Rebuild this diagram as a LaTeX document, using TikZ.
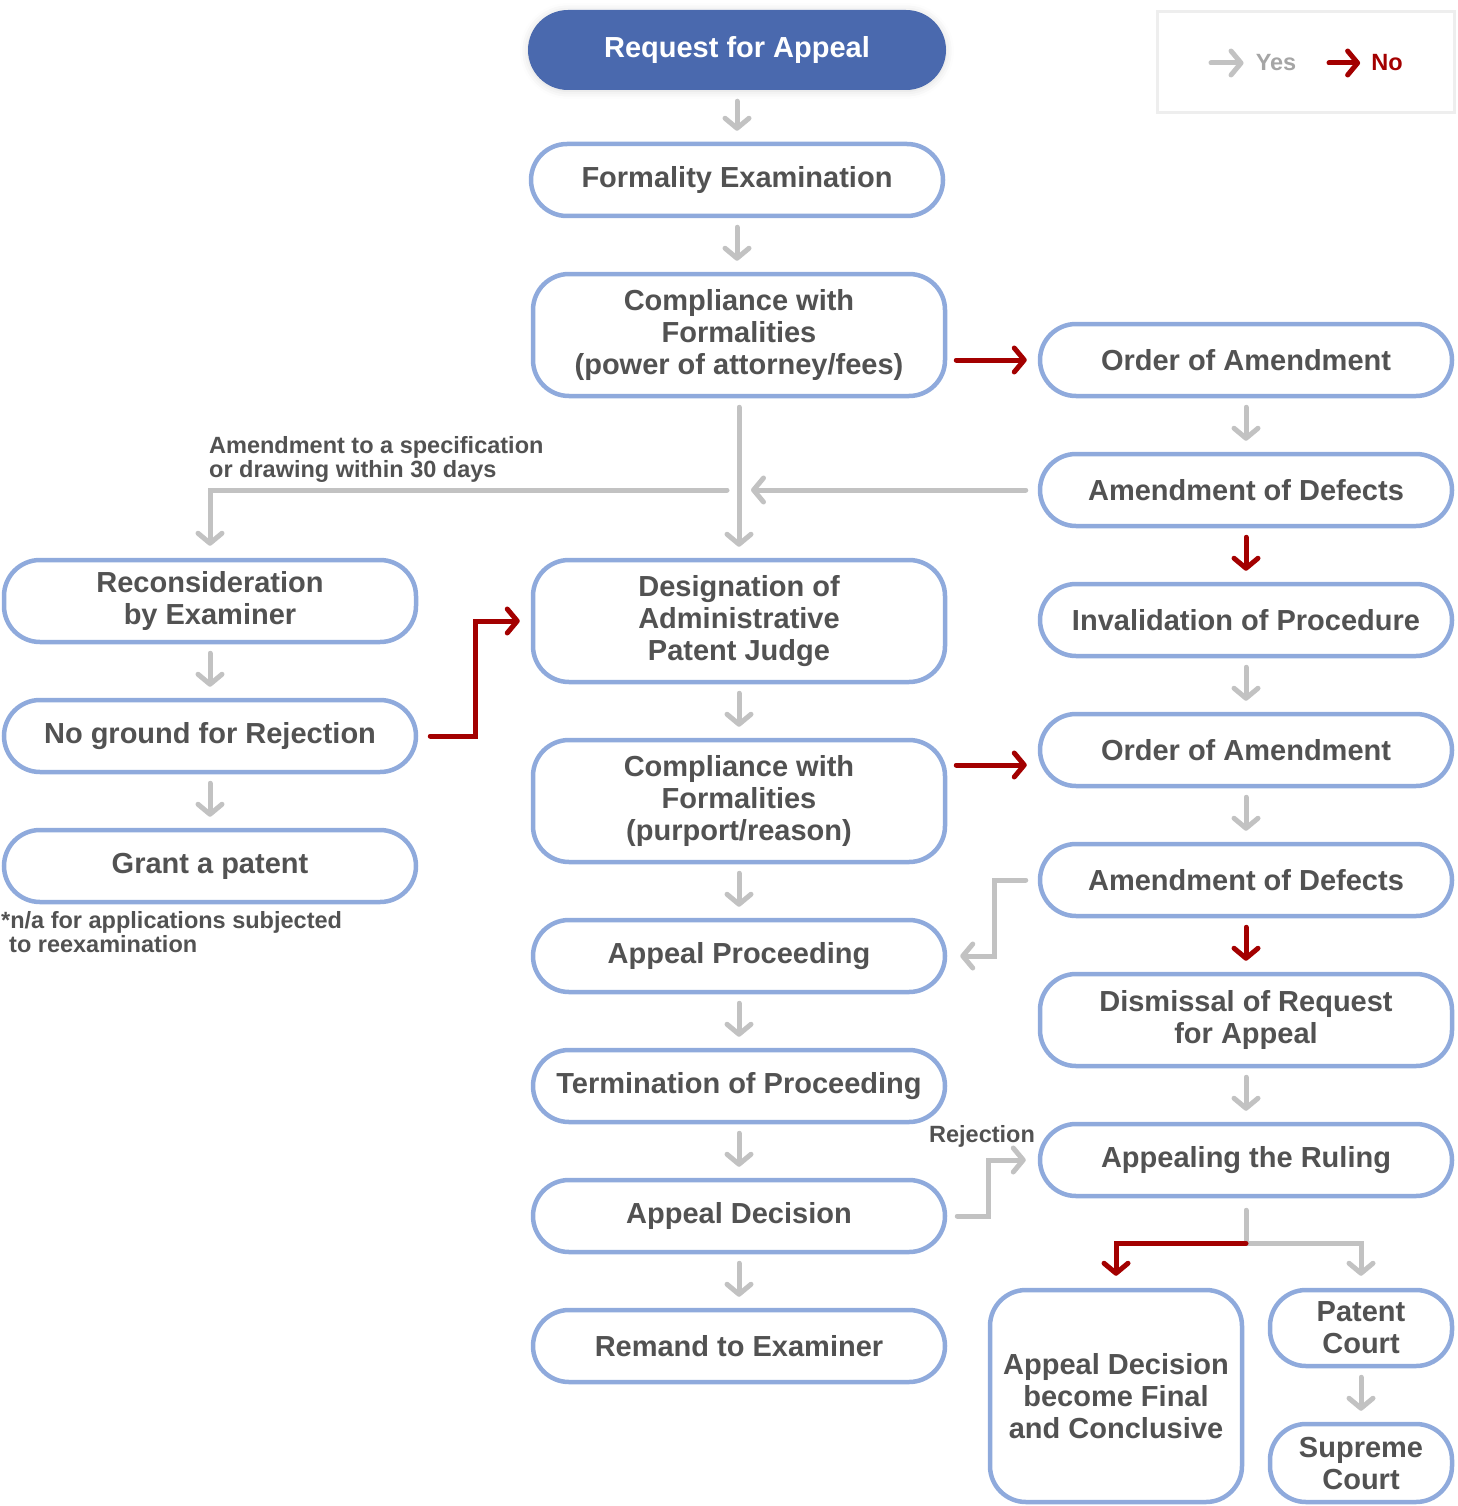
\documentclass[tikz,border=0pt]{standalone}
\usepackage{fontspec}
\setmainfont{Liberation Sans}
\usepackage{xcolor}
\usetikzlibrary{arrows.meta,shadows.blur}

\definecolor{boxblue}{HTML}{8FAADC}
\definecolor{headblue}{HTML}{4A69AE}
\definecolor{txtgray}{HTML}{525252}
\definecolor{yesgray}{HTML}{C2C2C2}
\definecolor{nored}{HTML}{A30000}
\definecolor{legendline}{HTML}{EEEEEE}

\newcommand\boxfont{\fontsize{29}{32}\selectfont\bfseries}
\newcommand\notefont{\fontsize{23.5}{24}\selectfont\bfseries}

\tikzset{
  box/.style={draw=boxblue,line width=4.5pt,fill=white,rounded corners=36pt,
    text=txtgray,font=\boxfont,align=center,inner sep=0pt,
    minimum width=412pt,minimum height=72pt},
  tall/.style={minimum height=122pt},
  small/.style={minimum width=182pt},
  note/.style={text=txtgray,font=\notefont,align=left,inner sep=0pt},
  yesarr/.style={draw=yesgray,line width=5pt,line cap=round,
    -{Straight Barb[length=10pt,width=24pt,round]}},
  noarr/.style={draw=nored,line width=5pt,line cap=round,
    -{Straight Barb[length=10pt,width=24pt,round]}},
  gap/.style={shorten <=9pt,shorten >=11pt}
}

\begin{document}
\begin{tikzpicture}[x=1pt,y=-1pt]
\useasboundingbox (0,0) rectangle (1457,1506);

% legend
\draw[legendline,line width=3pt] (1157,12) rectangle (1454,113);
\node[note,text=yesgray!85!black] (yeslbl) at (1276,63) {Yes};
\node[note,text=nored] (nolbl) at (1387,63) {No};
\coordinate (yesfrom) at (1211,63);
\coordinate (nofrom) at (1329,63);
\draw[yesarr,shorten >=12pt] (yesfrom) -- (yeslbl);
\draw[noarr,shorten >=11pt] (nofrom) -- (nolbl);

% centre column
\node[box,fill=headblue,draw=none,text=white,minimum width=418pt,minimum height=80pt,rounded corners=40pt,
  blur shadow={shadow xshift=0pt,shadow yshift=-1pt,shadow blur radius=8pt,shadow opacity=15}] (req) at (737,50) {Request for Appeal};
\node[box] (formal) at (737,180) {Formality Examination};
\node[box,tall] (comp1) at (739,335) {Compliance with\\Formalities\\(power of attorney/fees)};
\node[box,tall] (judge) at (739,621) {Designation of\\Administrative\\Patent Judge};
\node[box,tall] (comp2) at (739,801) {Compliance with\\Formalities\\(purport/reason)};
\node[box] (proc) at (739,956) {Appeal Proceeding};
\node[box] (term) at (739,1086) {Termination of Proceeding};
\node[box] (decision) at (739,1216) {Appeal Decision};
\node[box] (remand) at (739,1346) {Remand to Examiner};

% right column
\node[box] (ord1) at (1246,360) {Order of Amendment};
\node[box] (def1) at (1246,490) {Amendment of Defects};
\node[box] (inval) at (1246,620) {Invalidation of Procedure};
\node[box] (ord2) at (1246,750) {Order of Amendment};
\node[box] (def2) at (1246,880) {Amendment of Defects};
\node[box,minimum height=92pt] (dismiss) at (1246,1020) {Dismissal of Request\\for Appeal};
\node[box] (ruling) at (1246,1160) {Appealing the Ruling};
\node[box,minimum width=252pt,minimum height=212pt] (final) at (1116,1396) {Appeal Decision\\become Final\\and Conclusive};
\node[box,small,minimum height=76pt] (pcourt) at (1361,1328) {Patent\\Court};
\node[box,small,minimum height=78pt] (scourt) at (1361,1463) {Supreme\\Court};

% left column
\node[box,minimum height=82pt] (recon) at (210,601) {Reconsideration\\by Examiner};
\node[box] (noground) at (210,736) {No ground for Rejection};
\node[box] (grant) at (210,866) {Grant a patent};

\node[note,anchor=north west] (amendlbl) at (209,436) {Amendment to a specification\\or drawing within 30 days};
\node[note,anchor=north west] (nalbl) at (1,911) {*n/a for applications subjected\\\hspace*{8pt}to reexamination};
\node[note] (rejlbl) at (982,1136) {Rejection};

% connectors
\draw[yesarr,gap] (req) -- (formal);
\draw[yesarr,gap] (formal.south) -- (formal.south |- comp1.north);
\coordinate (ord2in) at ([yshift=-15pt]ord2.west);
\draw[noarr,gap] (comp1.east |- ord1) -- (ord1);
\draw[yesarr,gap] (ord1) -- (def1);
\draw[yesarr,shorten <=12pt,shorten >=12pt] (def1) -- (def1 -| comp1.south);
\draw[yesarr,shorten <=12pt,shorten >=12pt] (def1 -| comp1.south) -| (recon);
\draw[yesarr,gap] (comp1) -- (judge);
\draw[noarr,gap] (def1) -- (inval);
\draw[yesarr,gap] (inval) -- (ord2);
\draw[yesarr,gap] (recon) -- (noground);
\draw[yesarr,gap] (noground) -- (grant);
\draw[noarr,shorten <=12pt,shorten >=11pt] (noground.east) -- ++(57,0) |- (judge.west);
\draw[yesarr,gap] (judge) -- (comp2);
\draw[noarr,gap] (comp2.east |- ord2in) -- (ord2in);
\draw[yesarr,gap] (ord2) -- (def2);
\draw[noarr,gap] (def2) -- (dismiss);
\draw[yesarr,shorten <=12pt,shorten >=13pt] (def2.west) -- ++(-43,0) |- (proc.east);
\draw[yesarr,gap] (dismiss) -- (ruling);
\draw[yesarr,gap] (comp2) -- (proc);
\draw[yesarr,gap] (proc) -- (term);
\draw[yesarr,gap] (term) -- (decision);
\draw[yesarr,gap] (decision) -- (remand);
\draw[yesarr,shorten <=10pt,shorten >=12pt] (decision.east) -- ++(41,0) |- (ruling.west);
\draw[yesarr,shorten <=12pt,shorten >=12pt] (ruling.south) -- ++(0,45) -| (pcourt.north);
\draw[noarr,shorten >=12pt] ([yshift=-45pt]ruling.south) -| (final.north);
\draw[yesarr,gap] (pcourt) -- (scourt);
\end{tikzpicture}
\end{document}
